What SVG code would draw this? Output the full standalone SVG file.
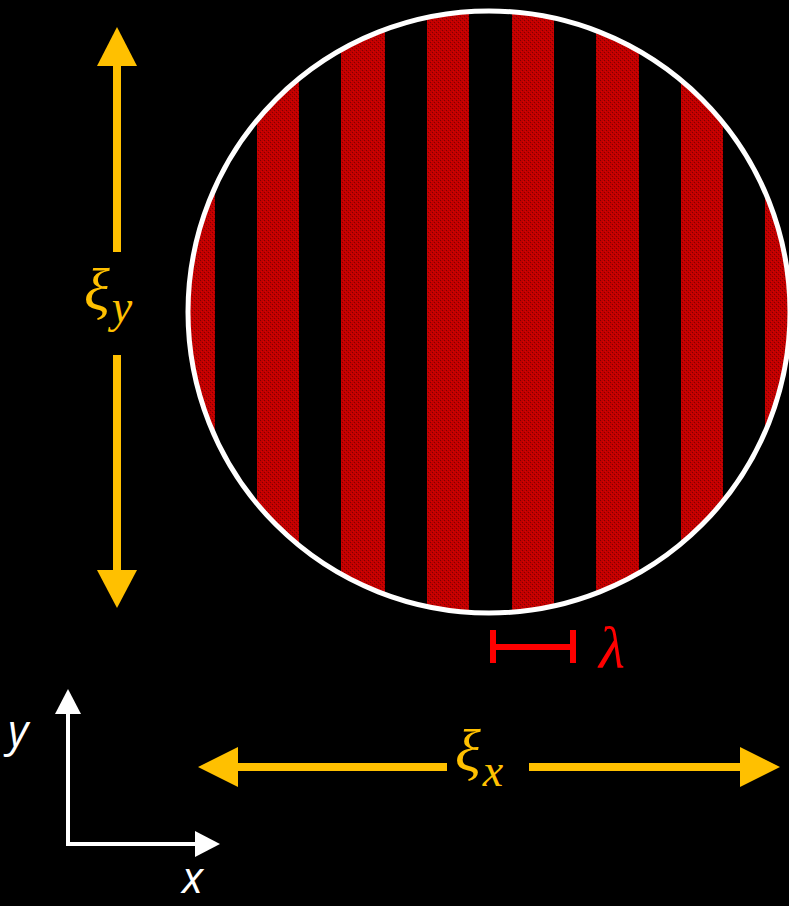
<svg xmlns="http://www.w3.org/2000/svg" width="789" height="906" viewBox="0 0 789 906">
<defs>
<style>
.yel{fill:#ffc000;}
.ysh{stroke:#ffc000;stroke-width:8;fill:none;}
.wl{stroke:#ffffff;stroke-width:4;fill:none;}
.wh{fill:#ffffff;}
.math{font-family:"Liberation Serif","DejaVu Serif",serif;font-style:italic;}
.ax{font-family:"Open Sans","Liberation Sans",sans-serif;font-style:italic;fill:#ffffff;font-size:44px;}
</style>
<pattern id="tex" width="4" height="4" patternUnits="userSpaceOnUse">
<rect width="4" height="4" fill="#c00000"/>
<rect x="0" y="0" width="1" height="1" fill="#800000"/>
<rect x="2" y="2" width="1" height="1" fill="#800000"/>
<rect x="1" y="3" width="1" height="1" fill="#d80000"/>
<rect x="3" y="1" width="1" height="1" fill="#d80000"/>
</pattern>
<clipPath id="cc"><circle cx="489" cy="312" r="301"/></clipPath>
</defs>
<rect width="789" height="906" fill="#000000"/>
<g id="grating">
<g clip-path="url(#cc)" fill="url(#tex)">
<rect x="172" y="0" width="43" height="640"/>
<rect x="257" y="0" width="42" height="640"/>
<rect x="341" y="0" width="44" height="640"/>
<rect x="427" y="0" width="42" height="640"/>
<rect x="512" y="0" width="42" height="640"/>
<rect x="596" y="0" width="43" height="640"/>
<rect x="681" y="0" width="42" height="640"/>
<rect x="765" y="0" width="43" height="640"/>
</g>
<circle cx="489" cy="312" r="301" fill="none" stroke="#ffffff" stroke-width="5"/>
</g>
<g id="lambda">
<path d="M493 630V663M573 630V663M493 647H573" stroke="#ff0000" stroke-width="6" fill="none"/>
<text x="599" y="668" class="math" font-size="60" fill="#ff0000">λ</text>
</g>
<g id="xi-y">
<path class="ysh" d="M117 64V252M117 355V572"/>
<polygon class="yel" points="117,27 137,66 97,66"/>
<polygon class="yel" points="117,608 137,570 97,570"/>
<text x="84" y="310" class="math" font-size="60" fill="#ffc000">ξ<tspan font-size="46" dx="2" dy="12">y</tspan></text>
</g>
<g id="xi-x">
<path class="ysh" d="M236 767H447M529 767H742"/>
<polygon class="yel" points="198,767 238,747 238,787"/>
<polygon class="yel" points="780,767 740,747 740,787"/>
<text x="455" y="771" class="math" font-size="60" fill="#ffc000">ξ<tspan font-size="46" dx="2" dy="15">x</tspan></text>
</g>
<g id="axes">
<path class="wl" d="M68 710V844H197"/>
<polygon class="wh" points="68,689 81,714 55,714"/>
<polygon class="wh" points="220,844 195,831 195,857"/>
<text x="8" y="746" class="ax">y</text>
<text x="182" y="893" class="ax">x</text>
</g>
</svg>
